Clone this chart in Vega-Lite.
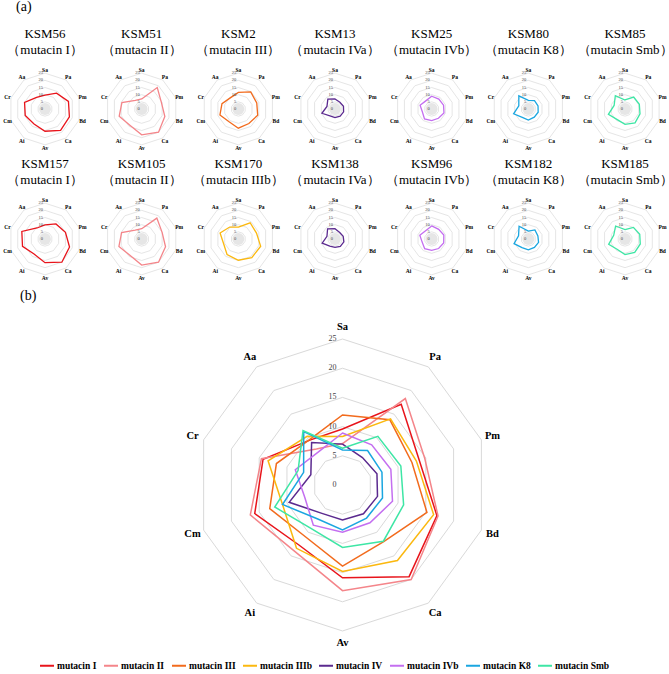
{
  "$schema": "https://vega.github.io/schema/vega-lite/v6.json",
  "background": "white",
  "padding": {"left": 2, "top": 0, "right": 0, "bottom": 0},
  "spacing": 6.5,
  "config": {
    "view": {"stroke": null},
    "font": "Liberation Serif",
    "title": {"font": "Liberation Serif", "fontSize": 14, "fontWeight": "normal", "anchor": "start", "color": "black"}
  },
  "resolve": {"scale": {"color": "independent", "x": "independent", "y": "independent"}},
  "datasets": {
    "d": [
      {"g": "s", "s": "KSM56", "t": "mutacin I", "Sa": 9.7, "Pa": 13.7, "Pm": 17.2, "Bd": 17.9, "Ca": 18.5, "Av": 15.5, "Ai": 13.0, "Cm": 14.5, "Cr": 15.0, "Aa": 10.0},
      {"g": "s", "s": "KSM51", "t": "mutacin II", "Sa": 7.0, "Pa": 18.5, "Pm": 14.5, "Bd": 17.0, "Ca": 20.0, "Av": 18.0, "Ai": 14.0, "Cm": 16.5, "Cr": 14.5, "Aa": 7.5},
      {"g": "s", "s": "KSM2", "t": "mutacin III", "Sa": 11.6, "Pa": 14.7, "Pm": 13.5, "Bd": 14.2, "Ca": 12.5, "Av": 13.4, "Ai": 11.0, "Cm": 13.5, "Cr": 12.0, "Aa": 9.6},
      {"g": "s", "s": "KSM13", "t": "mutacin IVa", "Sa": 7.0, "Pa": 5.8, "Pm": 6.2, "Bd": 6.3, "Ca": 6.1, "Av": 6.0, "Ai": 6.0, "Cm": 9.6, "Cr": 5.9, "Aa": 8.5},
      {"g": "s", "s": "KSM25", "t": "mutacin IVb", "Sa": 8.9, "Pa": 8.5, "Pm": 8.7, "Bd": 9.0, "Ca": 8.0, "Av": 8.1, "Ai": 8.5, "Cm": 6.8, "Cr": 8.5, "Aa": 7.0},
      {"g": "s", "s": "KSM80", "t": "mutacin K8", "Sa": 6.0, "Pa": 7.3, "Pm": 7.1, "Bd": 7.2, "Ca": 7.0, "Av": 7.7, "Ai": 7.2, "Cm": 10.8, "Cr": 7.0, "Aa": 11.3},
      {"g": "s", "s": "KSM85", "t": "mutacin Smb", "Sa": 6.3, "Pa": 10.3, "Pm": 10.5, "Bd": 11.0, "Ca": 11.9, "Av": 10.7, "Ai": 9.2, "Cm": 12.2, "Cr": 8.0, "Aa": 11.5},
      {"g": "s", "s": "KSM157", "t": "mutacin I", "Sa": 9.8, "Pa": 13.0, "Pm": 15.0, "Bd": 18.0, "Ca": 20.0, "Av": 16.5, "Ai": 13.0, "Cm": 16.5, "Cr": 17.0, "Aa": 9.5},
      {"g": "s", "s": "KSM105", "t": "mutacin II", "Sa": 7.2, "Pa": 18.0, "Pm": 15.0, "Bd": 17.5, "Ca": 20.0, "Av": 18.2, "Ai": 14.0, "Cm": 16.7, "Cr": 14.7, "Aa": 7.7},
      {"g": "s", "s": "KSM170", "t": "mutacin IIIb", "Sa": 8.3, "Pa": 14.0, "Pm": 13.3, "Bd": 16.4, "Ca": 16.0, "Av": 14.8, "Ai": 13.4, "Cm": 10.8, "Cr": 13.4, "Aa": 10.3},
      {"g": "s", "s": "KSM138", "t": "mutacin IVa", "Sa": 7.2, "Pa": 5.6, "Pm": 6.0, "Bd": 6.5, "Ca": 6.3, "Av": 5.8, "Ai": 6.2, "Cm": 9.4, "Cr": 5.9, "Aa": 8.8},
      {"g": "s", "s": "KSM96", "t": "mutacin IVb", "Sa": 9.1, "Pa": 8.3, "Pm": 8.9, "Bd": 8.8, "Ca": 8.2, "Av": 7.9, "Ai": 8.3, "Cm": 7.0, "Cr": 8.7, "Aa": 7.2},
      {"g": "s", "s": "KSM182", "t": "mutacin K8", "Sa": 5.5, "Pa": 7.8, "Pm": 7.0, "Bd": 7.5, "Ca": 7.2, "Av": 7.5, "Ai": 7.5, "Cm": 10.5, "Cr": 7.2, "Aa": 11.0},
      {"g": "s", "s": "KSM185", "t": "mutacin Smb", "Sa": 6.5, "Pa": 10.0, "Pm": 10.8, "Bd": 11.2, "Ca": 11.5, "Av": 10.9, "Ai": 9.0, "Cm": 12.0, "Cr": 8.3, "Aa": 11.2},
      {"g": "b", "s": "all", "t": "mutacin I", "Sa": 9.6, "Pa": 17.1, "Pm": 13.8, "Bd": 17.0, "Ca": 19.4, "Av": 15.9, "Ai": 12.7, "Cm": 15.8, "Cr": 14.3, "Aa": 9.5},
      {"g": "b", "s": "all", "t": "mutacin II", "Sa": 7.1, "Pa": 18.3, "Pm": 14.8, "Bd": 17.2, "Ca": 20.0, "Av": 18.1, "Ai": 14.0, "Cm": 16.6, "Cr": 14.6, "Aa": 7.6},
      {"g": "b", "s": "all", "t": "mutacin III", "Sa": 12.0, "Pa": 13.8, "Pm": 12.5, "Bd": 15.2, "Ca": 12.0, "Av": 13.9, "Ai": 10.9, "Cm": 13.1, "Cr": 11.9, "Aa": 9.6},
      {"g": "b", "s": "all", "t": "mutacin IIIb", "Sa": 8.3, "Pa": 14.0, "Pm": 13.3, "Bd": 16.4, "Ca": 16.0, "Av": 14.8, "Ai": 13.4, "Cm": 10.8, "Cr": 13.4, "Aa": 10.3},
      {"g": "b", "s": "all", "t": "mutacin IV", "Sa": 7.0, "Pa": 5.8, "Pm": 6.2, "Bd": 6.3, "Ca": 6.1, "Av": 6.0, "Ai": 6.0, "Cm": 9.6, "Cr": 5.7, "Aa": 9.0},
      {"g": "b", "s": "all", "t": "mutacin IVb", "Sa": 8.9, "Pa": 8.5, "Pm": 8.7, "Bd": 9.0, "Ca": 8.0, "Av": 8.1, "Ai": 8.5, "Cm": 6.8, "Cr": 8.5, "Aa": 7.0},
      {"g": "b", "s": "all", "t": "mutacin K8", "Sa": 6.0, "Pa": 7.3, "Pm": 7.1, "Bd": 7.2, "Ca": 7.0, "Av": 7.7, "Ai": 7.2, "Cm": 10.8, "Cr": 7.0, "Aa": 11.3},
      {"g": "b", "s": "all", "t": "mutacin Smb", "Sa": 6.3, "Pa": 10.3, "Pm": 10.5, "Bd": 11.0, "Ca": 11.9, "Av": 10.7, "Ai": 9.2, "Cm": 12.2, "Cr": 8.0, "Aa": 11.5}
    ]
  },
  "vconcat": [
    {
      "title": {"text": "(a)", "dx": 14, "offset": 14},
      "data": {"name": "d"},
      "transform": [
        {"filter": "datum.g == 's'"},
        {"fold": ["Sa", "Pa", "Pm", "Bd", "Ca", "Av", "Ai", "Cm", "Cr", "Aa"], "as": ["a", "v"]},
        {"calculate": "indexof(['Sa','Pa','Pm','Bd','Ca','Av','Ai','Cm','Cr','Aa'], datum.a)", "as": "idx"},
        {"calculate": "datum.idx * PI / 5", "as": "ang"},
        {"calculate": "datum.s + '|' + datum.t", "as": "h"}
      ],
      "facet": {
        "field": "h",
        "type": "nominal",
        "sort": ["KSM56|mutacin I", "KSM51|mutacin II", "KSM2|mutacin III", "KSM13|mutacin IVa", "KSM25|mutacin IVb", "KSM80|mutacin K8", "KSM85|mutacin Smb", "KSM157|mutacin I", "KSM105|mutacin II", "KSM170|mutacin IIIb", "KSM138|mutacin IVa", "KSM96|mutacin IVb", "KSM182|mutacin K8", "KSM185|mutacin Smb"],
        "header": {
          "title": null,
          "labelExpr": "[split(datum.value, '|')[0], '（' + split(datum.value, '|')[1] + '）']",
          "labelFont": "Liberation Serif",
          "labelFontSize": 13,
          "labelLineHeight": 15.5,
          "labelPadding": 9.5,
          "labelColor": "black"
        }
      },
      "columns": 7,
      "spacing": {"row": 44, "column": 10.67},
      "bounds": "flush",
      "spec": {
        "width": 86,
        "height": 86,
        "layer": [
          {
            "transform": [{"filter": "datum.a == 'Sa'"}],
            "mark": {"type": "circle", "size": 140, "color": "#e6e6e6", "opacity": 1},
            "encoding": {
              "x": {"datum": 0, "type": "quantitative", "scale": {"domain": [-30, 30], "nice": false}, "axis": null},
              "y": {"datum": 0, "type": "quantitative", "scale": {"domain": [-30, 30], "nice": false}, "axis": null}
            }
          },
          {
            "transform": [
              {"calculate": "[5, 10, 15, 20, 25]", "as": "lv"},
              {"flatten": ["lv"]},
              {"calculate": "datum.lv * sin(datum.ang)", "as": "rx"},
              {"calculate": "datum.lv * cos(datum.ang)", "as": "ry"}
            ],
            "mark": {"type": "line", "interpolate": "linear-closed", "stroke": "#dadada", "strokeWidth": 0.7},
            "encoding": {
              "x": {"field": "rx", "type": "quantitative", "scale": {"domain": [-30, 30], "nice": false}, "axis": null},
              "y": {"field": "ry", "type": "quantitative", "scale": {"domain": [-30, 30], "nice": false}, "axis": null},
              "detail": {"field": "lv", "type": "nominal"},
              "order": {"field": "idx", "type": "quantitative"}
            }
          },
          {
            "transform": [
              {"calculate": "datum.v * sin(datum.ang)", "as": "px"},
              {"calculate": "datum.v * cos(datum.ang)", "as": "py"}
            ],
            "mark": {"type": "line", "interpolate": "linear-closed", "strokeWidth": 1.3},
            "encoding": {
              "x": {"field": "px", "type": "quantitative", "scale": {"domain": [-30, 30], "nice": false}, "axis": null},
              "y": {"field": "py", "type": "quantitative", "scale": {"domain": [-30, 30], "nice": false}, "axis": null},
              "color": {
                "field": "t", "type": "nominal", "legend": null,
                "scale": {
                  "domain": ["mutacin I", "mutacin II", "mutacin III", "mutacin IIIb", "mutacin IVa", "mutacin IVb", "mutacin K8", "mutacin Smb"],
                  "range": ["#e8141b", "#f4858a", "#f26b1d", "#fbb80f", "#5b2a8f", "#c46ff0", "#1aa6e0", "#3ee6a5"]
                }
              },
              "order": {"field": "idx", "type": "quantitative"}
            }
          },
          {
            "transform": [
              {"calculate": "27.5 * sin(datum.ang)", "as": "lx"},
              {"calculate": "27.5 * cos(datum.ang)", "as": "ly"}
            ],
            "mark": {"type": "text", "fontSize": 5.5, "fontWeight": "bold", "font": "Liberation Serif", "color": "black", "align": "center", "baseline": "middle"},
            "encoding": {
              "x": {"field": "lx", "type": "quantitative", "scale": {"domain": [-30, 30], "nice": false}, "axis": null},
              "y": {"field": "ly", "type": "quantitative", "scale": {"domain": [-30, 30], "nice": false}, "axis": null},
              "text": {"field": "a"}
            }
          },
          {
            "transform": [
              {"filter": "datum.a == 'Sa'"},
              {"calculate": "[0, 5, 10, 15, 20, 25]", "as": "lv"},
              {"flatten": ["lv"]}
            ],
            "mark": {"type": "text", "fontSize": 4.5, "font": "Liberation Serif", "color": "#444444", "align": "right", "baseline": "middle", "dx": -2},
            "encoding": {
              "x": {"datum": 0, "type": "quantitative", "scale": {"domain": [-30, 30], "nice": false}, "axis": null},
              "y": {"field": "lv", "type": "quantitative", "scale": {"domain": [-30, 30], "nice": false}, "axis": null},
              "text": {"field": "lv"}
            }
          }
        ]
      }
    },
    {
      "title": {"text": "(b)", "dx": 18, "offset": 19},
      "width": 667,
      "height": 327,
      "data": {"name": "d"},
      "transform": [
        {"filter": "datum.g == 'b'"},
        {"fold": ["Sa", "Pa", "Pm", "Bd", "Ca", "Av", "Ai", "Cm", "Cr", "Aa"], "as": ["a", "v"]},
        {"calculate": "indexof(['Sa','Pa','Pm','Bd','Ca','Av','Ai','Cm','Cr','Aa'], datum.a)", "as": "idx"},
        {"calculate": "datum.idx * PI / 5", "as": "ang"}
      ],
      "layer": [
        {
          "transform": [
            {"filter": "datum.t == 'mutacin I'"},
            {"calculate": "[5, 10, 15, 20, 25]", "as": "lv"},
            {"flatten": ["lv"]},
            {"calculate": "datum.lv * sin(datum.ang)", "as": "rx"},
            {"calculate": "datum.lv * cos(datum.ang)", "as": "ry"}
          ],
          "mark": {"type": "line", "interpolate": "linear-closed", "stroke": "#d9d9d9", "strokeWidth": 1},
          "encoding": {
            "x": {"field": "rx", "type": "quantitative", "scale": {"domain": [-58.3, 55.9], "nice": false}, "axis": null},
            "y": {"field": "ry", "type": "quantitative", "scale": {"domain": [-28, 28], "nice": false}, "axis": null},
            "detail": {"field": "lv", "type": "nominal"},
            "order": {"field": "idx", "type": "quantitative"}
          }
        },
        {
          "transform": [
            {"calculate": "datum.v * sin(datum.ang)", "as": "px"},
            {"calculate": "datum.v * cos(datum.ang)", "as": "py"}
          ],
          "mark": {"type": "line", "interpolate": "linear-closed", "strokeWidth": 1.5},
          "encoding": {
            "x": {"field": "px", "type": "quantitative", "scale": {"domain": [-58.3, 55.9], "nice": false}, "axis": null},
            "y": {"field": "py", "type": "quantitative", "scale": {"domain": [-28, 28], "nice": false}, "axis": null},
            "color": {
              "field": "t", "type": "nominal",
              "scale": {
                "domain": ["mutacin I", "mutacin II", "mutacin III", "mutacin IIIb", "mutacin IV", "mutacin IVb", "mutacin K8", "mutacin Smb"],
                "range": ["#e8141b", "#f4858a", "#f26b1d", "#fbb80f", "#5b2a8f", "#c46ff0", "#1aa6e0", "#3ee6a5"]
              },
              "legend": {
                "orient": "none", "legendX": 37, "legendY": 336, "direction": "horizontal", "columns": 8, "title": null,
                "symbolType": "stroke", "symbolSize": 196, "symbolStrokeWidth": 2,
                "labelFont": "Liberation Serif", "labelFontWeight": "bold", "labelFontSize": 9.5, "labelColor": "black",
                "labelOffset": 2, "columnPadding": 3, "labelLimit": 200
              }
            },
            "order": {"field": "idx", "type": "quantitative"}
          }
        },
        {
          "transform": [
            {"filter": "datum.t == 'mutacin I'"},
            {"calculate": "27 * sin(datum.ang)", "as": "lx"},
            {"calculate": "27 * cos(datum.ang)", "as": "ly"}
          ],
          "mark": {"type": "text", "fontSize": 10.5, "fontWeight": "bold", "font": "Liberation Serif", "color": "black", "align": "center", "baseline": "middle"},
          "encoding": {
            "x": {"field": "lx", "type": "quantitative", "scale": {"domain": [-58.3, 55.9], "nice": false}, "axis": null},
            "y": {"field": "ly", "type": "quantitative", "scale": {"domain": [-28, 28], "nice": false}, "axis": null},
            "text": {"field": "a"}
          }
        },
        {
          "transform": [
            {"filter": "datum.t == 'mutacin I' && datum.a == 'Sa'"},
            {"calculate": "[0, 5, 10, 15, 20, 25]", "as": "lv"},
            {"flatten": ["lv"]}
          ],
          "mark": {"type": "text", "fontSize": 8, "font": "Liberation Serif", "color": "#444444", "align": "right", "baseline": "middle", "dx": -6},
          "encoding": {
            "x": {"datum": 0, "type": "quantitative", "scale": {"domain": [-58.3, 55.9], "nice": false}, "axis": null},
            "y": {"field": "lv", "type": "quantitative", "scale": {"domain": [-28, 28], "nice": false}, "axis": null},
            "text": {"field": "lv"}
          }
        }
      ]
    }
  ]
}
